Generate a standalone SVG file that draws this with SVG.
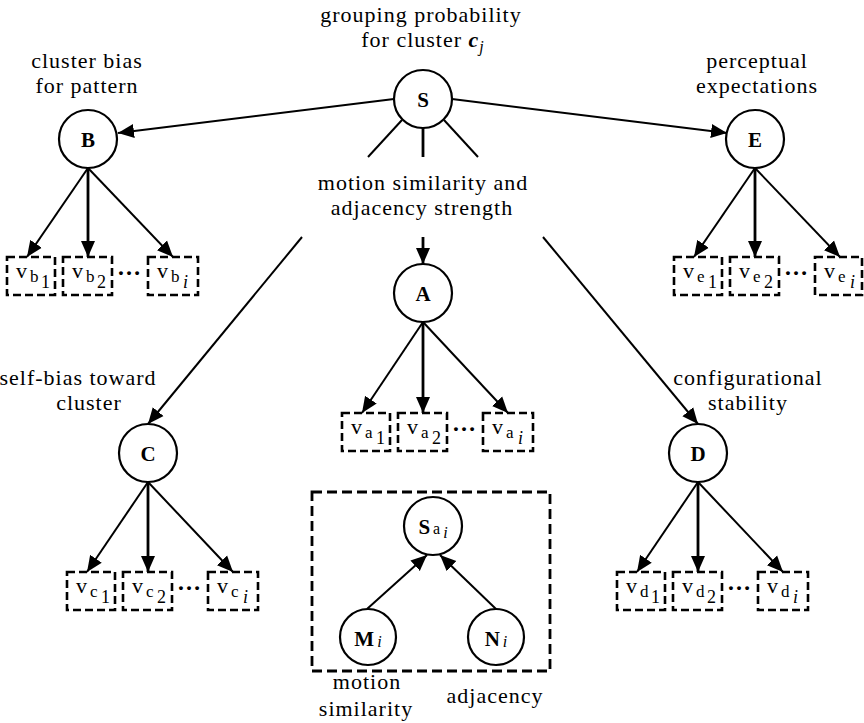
<svg xmlns="http://www.w3.org/2000/svg" width="864" height="723" viewBox="0 0 864 723">
  <style>
    text { font-family: "Liberation Serif", "Times New Roman", serif; fill: #000; }
    .lbl { font-size: 22px; letter-spacing: 1px; text-anchor: middle; }
    .nl { font-size: 21px; font-weight: bold; text-anchor: middle; }
    .nsub { font-size: 16px; font-weight: normal; }
    .node circle { fill: #fff; stroke: #000; stroke-width: 2.2; }
    .box { fill: none; stroke: #000; stroke-width: 2.6; stroke-dasharray: 8 4; }
    .frame { fill: none; stroke: #000; stroke-width: 2.8; stroke-dasharray: 10 5; }
    .v { font-size: 22px; }
    .vs { font-size: 17px; }
    .vi { font-size: 18px; }
    .it { font-style: italic; }
    .dots { font-size: 24px; font-weight: bold; text-anchor: middle; }
    .edge { stroke: #000; stroke-width: 2; fill: none; }
    .edge.vert { stroke-width: 2.8; }
    .arr { marker-end: url(#ah); }
  </style>
  <defs>
    <marker id="ah" markerUnits="userSpaceOnUse" markerWidth="17" markerHeight="15" refX="16" refY="7" orient="auto" viewBox="0 0 17 14">
      <path d="M0,0 L16,7 L0,14 z" fill="#000"/>
    </marker>
  </defs>

  <!-- connectors -->
  <g id="connectors">
    <!-- S to the side factors -->
    <line class="edge arr" x1="394" y1="99" x2="118" y2="133"/>
    <line class="edge arr" x1="452" y1="99" x2="727" y2="133"/>
    <!-- S spokes broken by the central caption -->
    <line class="edge" x1="402" y1="120" x2="368" y2="157"/>
    <line class="edge vert" x1="423" y1="128" x2="423" y2="157"/>
    <line class="edge" x1="444" y1="120" x2="478" y2="157"/>
    <line class="edge arr" x1="302" y1="237" x2="148" y2="424"/>
    <line class="edge vert arr" x1="423" y1="237" x2="423" y2="264"/>
    <line class="edge arr" x1="543" y1="237" x2="698" y2="424"/>
    <!-- B fan-out -->
    <line class="edge arr" x1="88" y1="168" x2="27" y2="257"/>
    <line class="edge vert arr" x1="88" y1="168" x2="88" y2="257"/>
    <line class="edge arr" x1="88" y1="168" x2="173" y2="257"/>
    <!-- E fan-out -->
    <line class="edge arr" x1="755" y1="168" x2="694" y2="257"/>
    <line class="edge vert arr" x1="755" y1="168" x2="755" y2="257"/>
    <line class="edge arr" x1="755" y1="168" x2="840" y2="257"/>
    <!-- A fan-out -->
    <line class="edge arr" x1="423" y1="322" x2="362" y2="413"/>
    <line class="edge vert arr" x1="423" y1="322" x2="423" y2="413"/>
    <line class="edge arr" x1="423" y1="322" x2="508" y2="413"/>
    <!-- C fan-out -->
    <line class="edge arr" x1="148" y1="482" x2="87" y2="572"/>
    <line class="edge vert arr" x1="148" y1="482" x2="148" y2="572"/>
    <line class="edge arr" x1="148" y1="482" x2="233" y2="572"/>
    <!-- D fan-out -->
    <line class="edge arr" x1="698" y1="482" x2="637" y2="572"/>
    <line class="edge vert arr" x1="698" y1="482" x2="698" y2="572"/>
    <line class="edge arr" x1="698" y1="482" x2="783" y2="572"/>
    <!-- M, N into S_ai -->
    <line class="edge arr" x1="367" y1="609" x2="427" y2="555"/>
    <line class="edge arr" x1="496" y1="609" x2="440" y2="555"/>
  </g>

  <!-- captions -->
  <g id="captions">
    <text class="lbl" x="421" y="22">grouping probability</text>
    <text class="lbl" x="423" y="47">for cluster <tspan font-weight="bold" font-style="italic">c</tspan><tspan class="it" font-size="16" dy="5">j</tspan></text>
    <text class="lbl" x="87" y="68">cluster bias</text>
    <text class="lbl" x="87" y="93">for pattern</text>
    <text class="lbl" x="757" y="68">perceptual</text>
    <text class="lbl" x="757" y="93">expectations</text>
    <text class="lbl" x="423" y="190">motion similarity and</text>
    <text class="lbl" x="422" y="215">adjacency strength</text>
    <text class="lbl" x="78" y="385">self-bias toward</text>
    <text class="lbl" x="89" y="410">cluster</text>
    <text class="lbl" x="748" y="385">configurational</text>
    <text class="lbl" x="748" y="410">stability</text>
    <text class="lbl" x="367" y="689">motion</text>
    <text class="lbl" x="366" y="716">similarity</text>
    <text class="lbl" x="495" y="703">adjacency</text>
  </g>

  <!-- factor nodes -->
  <g id="node-S" class="node"><circle cx="423" cy="99" r="29"/><text class="nl" x="423" y="107">S</text></g>
  <g id="node-B" class="node"><circle cx="88" cy="139" r="29"/><text class="nl" x="88" y="147">B</text></g>
  <g id="node-E" class="node"><circle cx="755" cy="139" r="29"/><text class="nl" x="755" y="147">E</text></g>
  <g id="node-A" class="node"><circle cx="423" cy="293" r="29"/><text class="nl" x="423" y="301">A</text></g>
  <g id="node-C" class="node"><circle cx="148" cy="453" r="29"/><text class="nl" x="148" y="461">C</text></g>
  <g id="node-D" class="node"><circle cx="698" cy="453" r="29"/><text class="nl" x="698" y="461">D</text></g>

  <!-- B variables -->
  <g id="vars-B">
    <g id="v-b1"><rect class="box" x="7" y="257" width="48" height="38"/><text class="v" x="16" y="278">v</text><text class="vs" x="30" y="282">b</text><text class="vi" x="41" y="288">1</text></g>
    <g id="v-b2"><rect class="box" x="63" y="257" width="49" height="38"/><text class="v" x="72" y="278">v</text><text class="vs" x="86" y="282">b</text><text class="vi" x="97" y="288">2</text></g>
    <text class="dots" x="129" y="275">…</text>
    <g id="v-bi"><rect class="box" x="148" y="257" width="50" height="38"/><text class="v" x="157" y="278">v</text><text class="vs" x="171" y="282">b</text><text class="vi it" x="183" y="288">i</text></g>
  </g>

  <!-- E variables -->
  <g id="vars-E">
    <g id="v-e1"><rect class="box" x="674" y="257" width="48" height="38"/><text class="v" x="683" y="278">v</text><text class="vs" x="697" y="282">e</text><text class="vi" x="708" y="288">1</text></g>
    <g id="v-e2"><rect class="box" x="730" y="257" width="49" height="38"/><text class="v" x="739" y="278">v</text><text class="vs" x="753" y="282">e</text><text class="vi" x="764" y="288">2</text></g>
    <text class="dots" x="796" y="275">…</text>
    <g id="v-ei"><rect class="box" x="815" y="257" width="47" height="38"/><text class="v" x="824" y="278">v</text><text class="vs" x="838" y="282">e</text><text class="vi it" x="850" y="288">i</text></g>
  </g>

  <!-- A variables -->
  <g id="vars-A">
    <g id="v-a1"><rect class="box" x="342" y="413" width="48" height="38"/><text class="v" x="351" y="434">v</text><text class="vs" x="365" y="438">a</text><text class="vi" x="376" y="444">1</text></g>
    <g id="v-a2"><rect class="box" x="398" y="413" width="49" height="38"/><text class="v" x="407" y="434">v</text><text class="vs" x="421" y="438">a</text><text class="vi" x="432" y="444">2</text></g>
    <text class="dots" x="464" y="431">…</text>
    <g id="v-ai"><rect class="box" x="483" y="413" width="50" height="38"/><text class="v" x="492" y="434">v</text><text class="vs" x="506" y="438">a</text><text class="vi it" x="518" y="444">i</text></g>
  </g>

  <!-- C variables -->
  <g id="vars-C">
    <g id="v-c1"><rect class="box" x="67" y="572" width="48" height="38"/><text class="v" x="76" y="593">v</text><text class="vs" x="90" y="597">c</text><text class="vi" x="101" y="603">1</text></g>
    <g id="v-c2"><rect class="box" x="123" y="572" width="49" height="38"/><text class="v" x="132" y="593">v</text><text class="vs" x="146" y="597">c</text><text class="vi" x="157" y="603">2</text></g>
    <text class="dots" x="189" y="590">…</text>
    <g id="v-ci"><rect class="box" x="208" y="572" width="50" height="38"/><text class="v" x="217" y="593">v</text><text class="vs" x="231" y="597">c</text><text class="vi it" x="243" y="603">i</text></g>
  </g>

  <!-- D variables -->
  <g id="vars-D">
    <g id="v-d1"><rect class="box" x="617" y="572" width="48" height="38"/><text class="v" x="626" y="593">v</text><text class="vs" x="640" y="597">d</text><text class="vi" x="651" y="603">1</text></g>
    <g id="v-d2"><rect class="box" x="673" y="572" width="49" height="38"/><text class="v" x="682" y="593">v</text><text class="vs" x="696" y="597">d</text><text class="vi" x="707" y="603">2</text></g>
    <text class="dots" x="739" y="590">…</text>
    <g id="v-di"><rect class="box" x="758" y="572" width="50" height="38"/><text class="v" x="767" y="593">v</text><text class="vs" x="781" y="597">d</text><text class="vi it" x="793" y="603">i</text></g>
  </g>

  <!-- detail of one adjacency factor -->
  <g id="detail-Sa">
    <rect class="frame" x="312" y="492" width="238" height="179"/>
    <g id="node-Sai" class="node"><circle cx="433" cy="526" r="29"/><text class="nl" x="433" y="534">S<tspan class="nsub" dx="3">a</tspan><tspan class="nsub it" dx="3" dy="4">i</tspan></text></g>
    <g id="node-Mi" class="node"><circle cx="368" cy="637" r="28"/><text class="nl" x="368" y="646">M<tspan class="nsub it" dx="3" dy="1">i</tspan></text></g>
    <g id="node-Ni" class="node"><circle cx="496" cy="637" r="28"/><text class="nl" x="496" y="646">N<tspan class="nsub it" dx="3" dy="1">i</tspan></text></g>
  </g>
</svg>
